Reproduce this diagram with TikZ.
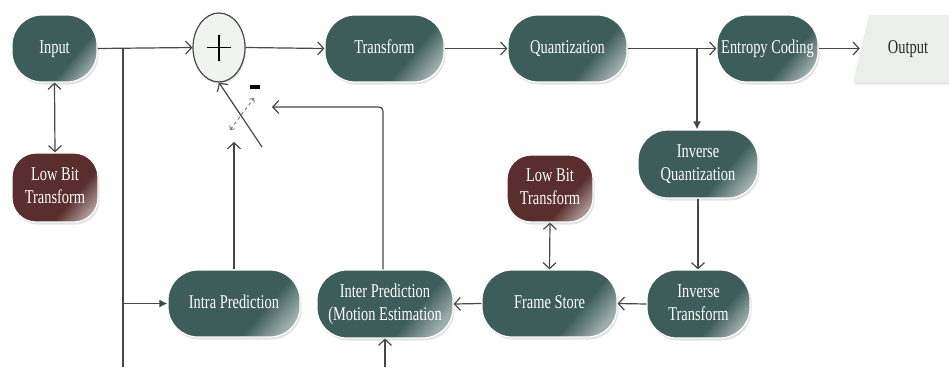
\documentclass[tikz,border=0pt]{standalone}
\usepackage{fontspec}
\usepackage{graphicx}
\setmainfont{Liberation Serif}
\usetikzlibrary{arrows.meta,shadows,shapes.geometric}
\definecolor{tealc}{HTML}{3D5D5A}
\definecolor{maroonc}{HTML}{5A2E2E}
\definecolor{linec}{HTML}{474747}
\definecolor{plusfill}{HTML}{F1F3F1}
\definecolor{outfill}{HTML}{ECEEEC}
\pgfdeclarehorizontalshading{tealshade}{100bp}{color(0bp)=(tealc); color(63bp)=(tealc); color(77bp)=(tealc!50!white); color(100bp)=(tealc!50!white)}
\pgfdeclarehorizontalshading{maroonshade}{100bp}{color(0bp)=(maroonc); color(63bp)=(maroonc); color(77bp)=(maroonc!50!white); color(100bp)=(maroonc!50!white)}
\newcommand{\ctxt}[1]{\scalebox{0.74}[1]{\begin{tabular}{@{}c@{}}#1\end{tabular}}}
\tikzset{
  blk/.style={rectangle, rounded corners=30pt, minimum height=67pt, draw=white, line width=1.2pt,
    shading=tealshade, shading angle=-40, text=white, font=\fontsize{19.5}{23}\selectfont,
    align=center, inner sep=2pt,
    drop shadow={shadow xshift=1.5pt, shadow yshift=-2.5pt, opacity=0.22, fill=gray}},
  mblk/.style={blk, shading=maroonshade, rounded corners=24pt},
  conn/.style={draw=linec, line width=1.2pt},
  arr/.style={conn, -{Straight Barb[length=6pt,width=13pt]}},
  arrboth/.style={conn, {Straight Barb[length=6pt,width=13pt]}-{Straight Barb[length=6pt,width=13pt]}},
  arrsolid/.style={conn, -{Latex[length=8pt,width=8pt]}}
}
\begin{document}
\begin{tikzpicture}[x=1pt,y=-1pt]
\useasboundingbox[fill=white] (0,0) rectangle (949,367);
% top row
\node[blk, minimum width=85pt] (in) at (54.5,48.5) {\ctxt{Input}};
\node[ellipse, draw=linec, line width=1.2pt, fill=plusfill, minimum width=52pt, minimum height=69pt,
  drop shadow={shadow xshift=1pt, shadow yshift=-2pt, opacity=0.2, fill=gray}] (plus) at (219,47.5) {};
\draw[line width=1.4pt, black] ([xshift=-12pt]plus.center) -- ([xshift=12pt]plus.center);
\draw[line width=1.4pt, black] ([yshift=-13pt]plus.center) -- ([yshift=13pt]plus.center);
\node[blk, minimum width=119pt] (tr) at (384.5,48.5) {\ctxt{Transform}};
\node[blk, minimum width=119pt] (qu) at (567.5,48.5) {\ctxt{Quantization}};
\node[blk, minimum width=101pt] (ec) at (767.5,48.5) {\ctxt{Entropy Coding}};
\fill[outfill, drop shadow={shadow xshift=1.5pt, shadow yshift=-2.5pt, opacity=0.18, fill=gray}]
  (853,82) -- (869,15) -- (965,15) -- (949,82) -- cycle;
\node[minimum width=96pt, minimum height=67pt, inner sep=0pt, font=\fontsize{19.5}{23}\selectfont, text=black!85] (out) at (908,48.5) {\ctxt{Output}};
% middle
\node[mblk, minimum width=86pt, minimum height=69pt] (lb1) at (55,187.5) {\ctxt{Low Bit\\Transform}};
\node[mblk, minimum width=86pt] (lb2) at (550,188.5) {\ctxt{Low Bit\\Transform}};
\node[blk, minimum width=120pt, minimum height=68pt] (iq) at (698,164) {\ctxt{Inverse\\Quantization}};
% bottom row
\node[blk, minimum width=132pt] (ip) at (234,303.5) {\ctxt{Intra Prediction}};
\node[blk, minimum width=136pt, minimum height=68pt] (ie) at (385,304) {\ctxt{Inter Prediction\\(Motion Estimation}};
\node[blk, minimum width=135pt] (fs) at (549.5,303.5) {\ctxt{Frame Store}};
\node[blk, minimum width=103pt, minimum height=68pt] (it) at (698.5,304) {\ctxt{Inverse\\Transform}};
% coordinates
\coordinate (b1) at (123,48.5);
\coordinate (b1end) at (123,367);
\coordinate (b2) at (697,48.5);
\coordinate (iebot) at (385,367);
\coordinate (swtail) at (262,147);
\coordinate (swin) at (272,107);
\coordinate (ipup) at (234,142);
\coordinate (d1) at (230,130);
\coordinate (d2) at (254,98);
% connectors
\draw[arr] (in.east) -- (plus.west);
\draw[conn] (b1) -- (b1end);
\draw[arrsolid] (b1 |- ip.west) -- (ip.west);
\draw[arrboth] (in.south) -- (lb1.north);
\draw[arr] (plus.east) -- (tr.west);
\draw[arr] (tr.east) -- (qu.west);
\draw[arr] (qu.east) -- (ec.west);
\draw[arr] (ec.east) -- (out.west);
\draw[arrsolid] (b2) -- (b2 |- iq.north);
\draw[arr] (iq.south) -- (iq.south |- it.north);
\draw[arr] (it.west) -- (fs.east);
\draw[arr] (fs.west) -- (ie.east);
\draw[arrboth] (lb2.south) -- (fs.north);
\draw[arr] (iebot) -- (ie.south);
\draw[arr, rounded corners=4pt] ([xshift=-2pt]ie.north) |- (swin);
\draw[arr] (ip.north) -- (ipup);
\draw[arr] (swtail) -- (plus.south);
\draw[dashed, draw=black!55, line width=0.9pt, {Straight Barb[length=3pt,width=6pt]}-{Straight Barb[length=3pt,width=6pt]}] (d1) -- (d2);
\node[fill=black, minimum width=10pt, minimum height=3.5pt, inner sep=0pt] (minus) at (255,87) {};
\end{tikzpicture}
\end{document}
